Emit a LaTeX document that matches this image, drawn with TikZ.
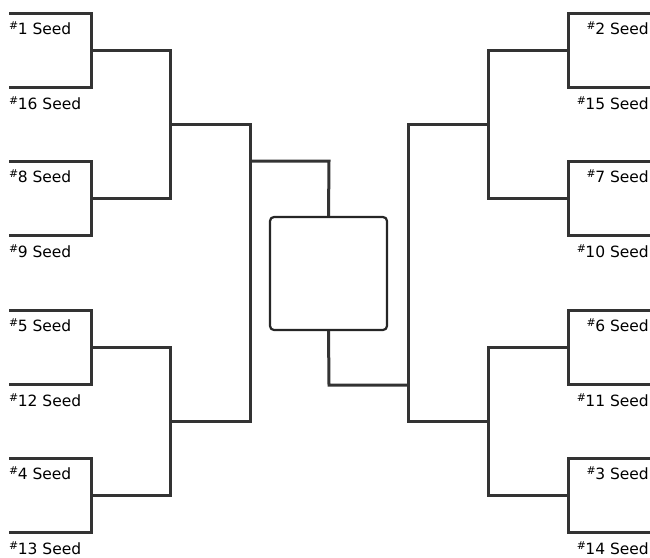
\documentclass[tikz,border=0pt]{standalone}
\usepackage{fontspec}
\setmainfont{DejaVu Sans}
\begin{document}
\begin{tikzpicture}[x=1pt,y=-1pt,
  wire/.style={draw=black!80, line width=3pt, line join=miter},
  seedlbl/.style={inner sep=0pt, font=\fontsize{15.5}{16}\selectfont},
  finalbox/.style={draw=black!85, line width=2.2pt, rounded corners=4pt, minimum width=117pt, minimum height=113pt, inner sep=0pt}]
\useasboundingbox (0,0) rectangle (650,557);
% ---------- left first round ----------
\foreach \i/\t/\a/\b in {1/13/1/16, 2/161/8/9, 3/310/5/12, 4/458/4/13}{
  \coordinate (LA\i) at (9,\t);
  \coordinate (LB\i) at (91,\t);
  \coordinate (LC\i) at (91,\t+74);
  \coordinate (LD\i) at (9,\t+74);
  \coordinate (LM\i) at (91,\t+37);
  \draw[wire] (LA\i) -- (LB\i) -- (LC\i) -- (LD\i);
  \node[seedlbl, anchor=west] (ls\a) at (9,\t+15) {\textsuperscript{\#}\kern-1pt\a{} Seed};
  \node[seedlbl, anchor=west] (ls\b) at (9,\t+90) {\textsuperscript{\#}\kern-1pt\b{} Seed};
}
% ---------- right first round ----------
\foreach \i/\t/\a/\b in {1/13/2/15, 2/161/7/10, 3/310/6/11, 4/458/3/14}{
  \coordinate (RA\i) at (650,\t);
  \coordinate (RB\i) at (568,\t);
  \coordinate (RC\i) at (568,\t+74);
  \coordinate (RD\i) at (650,\t+74);
  \coordinate (RM\i) at (568,\t+37);
  \draw[wire] (RA\i) -- (RB\i) -- (RC\i) -- (RD\i);
  \node[seedlbl, anchor=east] (rs\a) at (649,\t+15) {\textsuperscript{\#}\kern-1pt\a{} Seed};
  \node[seedlbl, anchor=east] (rs\b) at (649,\t+90) {\textsuperscript{\#}\kern-1pt\b{} Seed};
}
% ---------- second round ----------
\coordinate (L2a) at (170,50);  \coordinate (L2b) at (170,198);
\coordinate (L2c) at (170,347); \coordinate (L2d) at (170,495);
\coordinate (R2a) at (488,50);  \coordinate (R2b) at (488,198);
\coordinate (R2c) at (488,347); \coordinate (R2d) at (488,495);
\draw[wire] (LM1) -- (L2a) -- (L2b) -- (LM2);
\draw[wire] (LM3) -- (L2c) -- (L2d) -- (LM4);
\draw[wire] (RM1) -- (R2a) -- (R2b) -- (RM2);
\draw[wire] (RM3) -- (R2c) -- (R2d) -- (RM4);
% ---------- third round ----------
\coordinate (L2m1) at (170,124); \coordinate (L2m2) at (170,421);
\coordinate (R2m1) at (488,124); \coordinate (R2m2) at (488,421);
\coordinate (L3a) at (250,124); \coordinate (L3b) at (250,421);
\coordinate (R3a) at (408,124); \coordinate (R3b) at (408,421);
\draw[wire] (L2m1) -- (L3a) -- (L3b) -- (L2m2);
\draw[wire] (R2m1) -- (R3a) -- (R3b) -- (R2m2);
% ---------- final ----------
\node[finalbox] (champ) at (328.5,273.5) {};
\coordinate (L3m) at (250,161);
\coordinate (R3m) at (408,385);
\draw[wire] (L3m) -- (329,161) -- (champ.north);
\draw[wire] (R3m) -- (329,385) -- (champ.south);
\end{tikzpicture}
\end{document}
